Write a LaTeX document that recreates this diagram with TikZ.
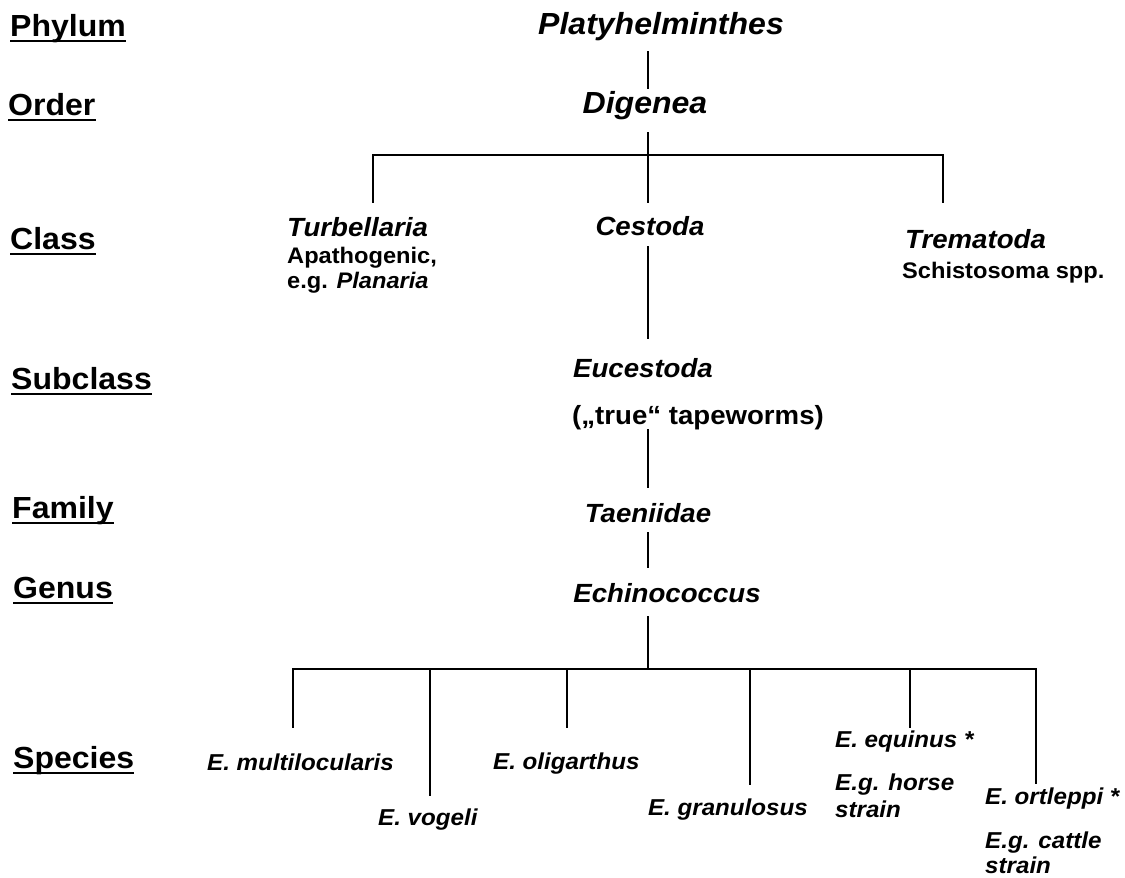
\documentclass[tikz,border=0pt]{standalone}
\usepackage{fontspec}
\setmainfont[FakeStretch=1.05]{Liberation Sans}
\begin{document}
\begin{tikzpicture}[x=1bp,y=-1bp,
 lvl/.style={font=\fontsize{30.5bp}{34bp}\selectfont\bfseries, anchor=base west, inner sep=0},
 ul/.style={line width=2.6bp},
 head/.style={font=\fontsize{30.5bp}{34bp}\selectfont\bfseries\itshape, anchor=base, inner sep=0},
 taxon/.style={font=\fontsize{26.3bp}{30bp}\selectfont\bfseries\itshape, inner sep=0},
 note/.style={font=\fontsize{22.5bp}{26bp}\selectfont\bfseries, anchor=base west, inner sep=0},
 sp/.style={font=\fontsize{23bp}{28bp}\selectfont\bfseries\itshape, anchor=base west, inner sep=0},
 conn/.style={line width=1.3bp, line cap=rect}]
\useasboundingbox (0,0) rectangle (1125,878);

% rank labels
\node[lvl] (Lphylum) at (10,36) {Phylum};
\node[lvl] (Lorder) at (8,115) {Order};
\node[lvl] (Lclass) at (10,249) {Class};
\node[lvl] (Lsub) at (11,389) {Subclass};
\node[lvl] (Lfam) at (12,518) {Family};
\node[lvl] (Lgen) at (13,598) {Genus};
\node[lvl] (Lspec) at (13,768) {Species};
\foreach \n in {Lphylum,Lorder,Lclass,Lsub,Lfam,Lgen,Lspec}
  \draw[ul] ([yshift=-5bp]\n.base west) -- ([yshift=-5bp]\n.base east);

% taxa
\node[head] (platy) at (661,34) {Platyhelminthes};
\node[head] (digenea) at (645,113) {Digenea};
\node[taxon, anchor=base west] (turb) at (287,236) {Turbellaria};
\node[note] (apath) at (287,263) {Apathogenic,};
\node[note] (plan) at (287,288) {e.g. \textit{Planaria}};
\node[taxon, anchor=base] (cest) at (650,235) {Cestoda};
\node[taxon, anchor=base west] (trem) at (905,248) {Trematoda};
\node[note] (schis) at (902,278) {Schistosoma spp.};
\node[taxon, anchor=base] (euc) at (643,377) {Eucestoda};
\node[taxon, anchor=base west, font=\fontsize{26.3bp}{30bp}\selectfont\bfseries] (true) at (572,424) {(„true“ tapeworms)};
\node[taxon, anchor=base] (taen) at (648,522) {Taeniidae};
\node[taxon, anchor=base] (echi) at (667,602) {Echinococcus};

% species
\node[sp] (multi) at (207,770) {E. multilocularis};
\node[sp] (vog) at (378,825) {E. vogeli};
\node[sp] (olig) at (493,769) {E. oligarthus};
\node[sp, anchor=base east] (gran) at (808,815) {E. granulosus};
\node[sp] (equi) at (835,747) {E. equinus *};
\node[sp] (horse1) at (835,790) {E.g. horse};
\node[sp] (horse2) at (835,817) {strain};
\node[sp] (ortl) at (985,804) {E. ortleppi *};
\node[sp] (cat1) at (985,848) {E.g. cattle};
\node[sp] (cat2) at (985,873) {strain};

% connector points
\coordinate (pA) at (648,52);  \coordinate (pB) at (648,88);
\coordinate (pC) at (648,133); \coordinate (bar1) at (648,155);
\coordinate (bar1L) at (373,155); \coordinate (bar1R) at (943,155);
\coordinate (dT) at (373,202); \coordinate (dC) at (648,202); \coordinate (dR) at (943,202);
\coordinate (pD) at (648,247); \coordinate (pE) at (648,338);
\coordinate (pF) at (648,430); \coordinate (pG) at (648,487);
\coordinate (pH) at (648,533); \coordinate (pI) at (648,567);
\coordinate (pJ) at (648,617); \coordinate (bar2) at (648,669);
\coordinate (bar2L) at (293,669); \coordinate (bar2R) at (1036,669);
\coordinate (s1t) at (293,669); \coordinate (s1) at (293,727);
\coordinate (s2t) at (430,669); \coordinate (s2) at (430,795);
\coordinate (s3t) at (567,669); \coordinate (s3) at (567,727);
\coordinate (s4t) at (750,669); \coordinate (s4) at (750,784);
\coordinate (s5t) at (910,669); \coordinate (s5) at (910,727);
\coordinate (s6t) at (1036,669); \coordinate (s6) at (1036,783);

\draw[conn] (pA) -- (pB);
\draw[conn] (pC) -- (bar1);
\draw[conn] (bar1L) -- (bar1R);
\draw[conn] (bar1L) -- (dT);
\draw[conn] (bar1) -- (dC);
\draw[conn] (bar1R) -- (dR);
\draw[conn] (pD) -- (pE);
\draw[conn] (pF) -- (pG);
\draw[conn] (pH) -- (pI);
\draw[conn] (pJ) -- (bar2);
\draw[conn] (bar2L) -- (bar2R);
\foreach \i in {1,...,6} \draw[conn] (s\i t) -- (s\i);
\end{tikzpicture}
\end{document}
